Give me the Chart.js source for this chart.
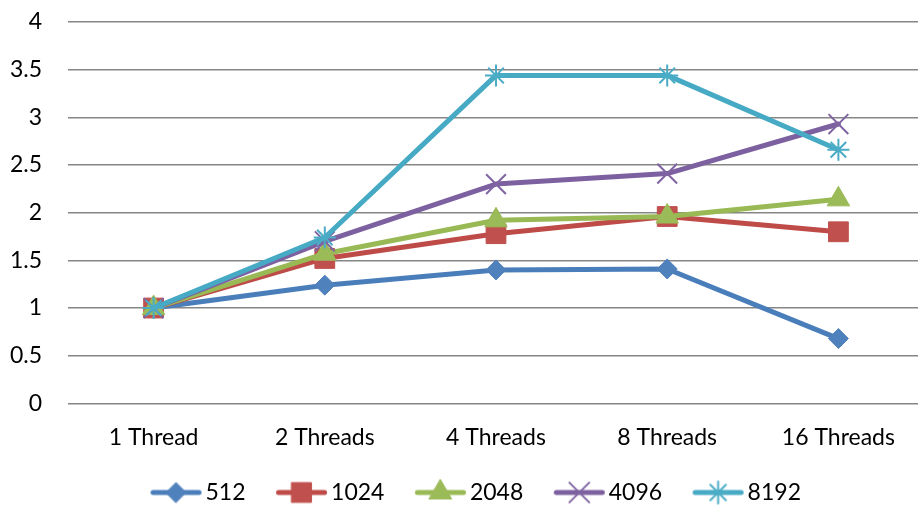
<!DOCTYPE html>
<html>
<head>
<meta charset="utf-8">
<script src="https://cdn.jsdelivr.net/npm/chart.js@4/dist/chart.umd.min.js"></script>
<style>
  html, body { margin: 0; padding: 0; background: #fff; overflow: hidden; }
  #wrap { width: 918px; height: 506px; overflow: hidden; }
</style>
</head>
<body>
<div id="wrap"><canvas id="c" width="924" height="514"></canvas></div>
<script>
// Speed-up by thread count for each problem size
const categories = ['1 Thread', '2 Threads', '4 Threads', '8 Threads', '16 Threads'];
const seriesNames = ['512', '1024', '2048', '4096', '8192'];
const s512  = [1, 1.24, 1.40, 1.41, 0.68];
const s1024 = [1, 1.52, 1.78, 1.96, 1.80];
const s2048 = [1, 1.57, 1.92, 1.96, 2.14];
const s4096 = [1, 1.70, 2.30, 2.41, 2.93];
const s8192 = [1, 1.74, 3.44, 3.44, 2.66];
const yTicks = [0, 0.5, 1, 1.5, 2, 2.5, 3, 3.5, 4];

const FONT = 'Lato, "Open Sans", "DejaVu Sans", sans-serif';
const FONT_SIZE = 23;

const styles = [
  { line: '#4A7EBB', mark: '#4F81BD', shape: 'rectRot',  r: 10, bw: 1 },
  { line: '#BE4B48', mark: '#C0504D', shape: 'rect',     r: 14, bw: 1 },
  { line: '#98B954', mark: '#9BBB59', shape: 'triangle', r: 13, bw: 1 },
  { line: '#7D60A0', mark: '#8064A2', shape: 'crossRot', r: 14, bw: 2 },
  { line: '#46AAC5', mark: '#4BACC6', shape: 'star',     r: 11, bw: 2 }
];
const values = [s512, s1024, s2048, s4096, s8192];

// Legend swatch: a short line segment with the series marker on it.
// The image is wider than the segment so the segment sits just left of the label.
function legendSwatch(st) {
  const c = document.createElement('canvas');
  c.width = 94; c.height = 28;
  const g = c.getContext('2d');
  g.strokeStyle = st.line;
  g.lineWidth = 5;
  g.lineCap = 'round';
  g.beginPath();
  g.moveTo(41.5, 14);
  g.lineTo(87.5, 14);
  g.stroke();
  g.fillStyle = st.mark;
  g.strokeStyle = st.mark;
  g.lineWidth = st.bw;
  Chart.helpers.drawPoint(g, { pointStyle: st.shape, radius: st.r, borderWidth: st.bw, rotation: 0 }, 64.5, 14);
  return c;
}

function draw() {
  const datasets = values.map((v, i) => ({
    label: seriesNames[i],
    data: v,
    borderColor: styles[i].line,
    backgroundColor: styles[i].mark,
    borderWidth: 5,
    borderJoinStyle: 'round',
    borderCapStyle: 'round',
    tension: 0,
    clip: false,
    pointStyle: styles[i].shape,
    pointRadius: styles[i].r,
    pointHoverRadius: styles[i].r,
    pointBorderWidth: styles[i].bw,
    pointBorderColor: styles[i].mark,
    pointBackgroundColor: styles[i].mark,
    order: values.length - i
  }));

  new Chart(document.getElementById('c'), {
    type: 'line',
    data: { labels: categories, datasets },
    options: {
      responsive: false,
      animation: false,
      events: [],
      layout: { autoPadding: false, padding: { top: 22, left: 0, right: 0, bottom: 0 } },
      scales: {
        x: {
          offset: true,
          grid: { display: false, drawTicks: false },
          border: { display: false },
          ticks: { color: '#000', font: { family: FONT, size: FONT_SIZE }, padding: 20, maxRotation: 0 },
          afterFit: (s) => { s.height += 7; }
        },
        y: {
          min: 0, max: 4,
          afterBuildTicks: (s) => { s.ticks = yTicks.map(v => ({ value: v })); },
          grid: { color: '#868686', lineWidth: 1.5, drawTicks: false },
          border: { display: false },
          ticks: {
            color: '#000',
            font: { family: FONT, size: FONT_SIZE },
            padding: 26,
            callback: (v) => String(v)
          },
          afterFit: (s) => { s.width = 68; s.paddingTop = 0; s.paddingBottom = 0; }
        }
      },
      plugins: {
        tooltip: { enabled: false },
        legend: {
          position: 'bottom',
          labels: {
            usePointStyle: true,
            pointStyleWidth: 71,
            padding: 3,
            color: '#000',
            font: { family: FONT, size: FONT_SIZE },
            generateLabels: () => seriesNames.map((n, i) => ({
              text: n,
              pointStyle: legendSwatch(styles[i]),
              fillStyle: 'transparent',
              strokeStyle: 'transparent',
              lineWidth: 0,
              hidden: false,
              datasetIndex: i,
              fontColor: '#000'
            }))
          }
        }
      }
    }
  });
}

document.fonts.load(FONT_SIZE + 'px Lato').then(draw, draw);
</script>
</body>
</html>
